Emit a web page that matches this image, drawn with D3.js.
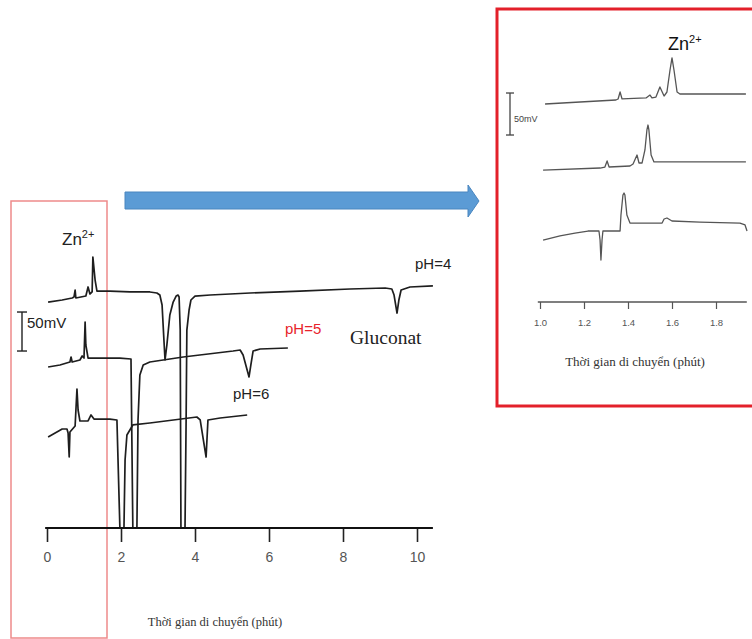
<!DOCTYPE html>
<html><head><meta charset="utf-8">
<script src="https://cdn.jsdelivr.net/npm/d3@7"></script>
<style>html,body{margin:0;padding:0;background:#fff;}svg{display:block;}</style>
</head><body>
<script>
// ---- Main electropherogram (time in min, signal in mV, traces offset) ----
const mainTicks = [0, 2, 4, 6, 8, 10];
const pH4 = [[0.03,289.7],[0.41,292.3],[0.68,294.9],[0.73,296.2],[0.76,305.1],[0.78,294.9],[1.05,297.4],[1.11,309.0],[1.16,300.0],[1.22,302.6],[1.24,347.4],[1.30,317.9],[1.35,303.8],[1.70,303.8],[2.24,302.6],[2.78,302.6],[2.97,301.3],[3.05,298.7],[3.11,285.9],[3.16,241.0],[3.19,215.4],[3.24,234.6],[3.32,273.1],[3.41,289.7],[3.49,297.4],[3.54,298.7],[3.57,296.2],[3.60,253.8],[3.62,0],[3.73,0],[3.76,138.5],[3.78,253.8],[3.84,279.5],[3.89,292.3],[4.00,297.4],[4.41,298.7],[5.49,301.3],[6.84,303.8],[8.19,306.4],[9.14,307.7],[9.32,306.4],[9.38,298.7],[9.46,275.6],[9.51,292.3],[9.57,305.1],[9.81,309.0],[10.43,310.3]];
const pH5 = [[0.03,206.4],[0.35,209.0],[0.62,212.8],[0.65,219.2],[0.68,212.8],[0.89,215.4],[0.95,220.5],[1.00,217.9],[1.03,264.1],[1.05,234.6],[1.11,217.9],[1.43,217.9],[1.97,217.9],[2.27,216.7],[2.32,0],[2.43,0],[2.46,138.5],[2.51,196.2],[2.60,209.0],[2.78,212.8],[3.68,219.2],[5.03,226.9],[5.22,228.2],[5.30,221.8],[5.46,193.6],[5.51,209.0],[5.57,226.9],[5.76,229.5],[6.51,230.8]];
const pH6 = [[0.03,116.7],[0.22,121.8],[0.41,126.9],[0.54,126.9],[0.57,121.8],[0.60,91.0],[0.62,123.1],[0.76,130.8],[0.81,178.2],[0.84,151.3],[0.89,137.2],[1.11,137.2],[1.19,144.9],[1.27,139.7],[1.70,139.7],[1.89,138.5],[1.97,0],[2.08,0],[2.11,87.2],[2.16,119.2],[2.32,132.1],[2.78,134.6],[4.05,142.3],[4.14,138.5],[4.30,91.0],[4.35,138.5],[4.68,141.0],[5.41,144.9]];
const mainLabels = ["pH=4", "pH=5", "pH=6"];

// ---- Inset (zoom on 1.0 - 1.9 min) ----
const insetTicks = [1.0, 1.2, 1.4, 1.6, 1.8];
const inA = [[1.023,235.7],[1.182,238.1],[1.345,240.5],[1.355,241.7],[1.364,250.0],[1.373,241.7],[1.482,242.9],[1.500,246.4],[1.509,242.9],[1.527,244.0],[1.545,256.0],[1.564,245.2],[1.577,250.0],[1.591,276.2],[1.600,290.5],[1.609,276.2],[1.623,250.0],[1.636,247.6],[1.936,247.6]];
const inB = [[1.014,157.1],[1.273,159.5],[1.295,160.7],[1.305,167.9],[1.314,160.7],[1.409,161.9],[1.423,164.3],[1.441,175.0],[1.450,165.5],[1.464,165.5],[1.477,181.0],[1.486,204.8],[1.491,210.7],[1.495,204.8],[1.505,175.0],[1.518,166.7],[1.936,166.7]];
const inC = [[1.014,73.8],[1.091,78.6],[1.159,82.1],[1.218,84.5],[1.268,84.5],[1.273,73.8],[1.277,50.0],[1.282,73.8],[1.286,84.5],[1.364,84.5],[1.368,103.6],[1.377,127.4],[1.382,129.8],[1.386,127.4],[1.395,103.6],[1.409,94.0],[1.555,94.0],[1.564,98.8],[1.577,100.0],[1.600,96.4],[1.727,95.2],[1.909,94.0],[1.932,91.7],[1.941,84.5]];

const axisTitle = "Thời gian di chuyển (phút)";

const W = 752, H = 639;
const svg = d3.select("body").append("svg").attr("width", W).attr("height", H);

// Main scales
const x = d3.scaleLinear().domain([0, 10]).range([47, 417]);
const y = d3.scaleLinear().domain([0, 420]).range([528, 200.4]);
const line = d3.line().x(d => x(d[0])).y(d => y(d[1]));

// left highlight box (around 0-1.6 min)
svg.append("rect").attr("x", 11).attr("y", 201).attr("width", 96).attr("height", 437)
  .attr("fill", "none").attr("stroke", "#ee8a8a").attr("stroke-width", 1.5);

// traces
[pH6, pH5, pH4].forEach(s => {
  svg.append("path").datum(s).attr("d", line).attr("fill", "none")
    .attr("stroke", "#1e1e1e").attr("stroke-width", 1.7).attr("stroke-linejoin", "round");
});

// main axis
const gx = svg.append("g").attr("transform", "translate(0,528)").attr("color", "#555")
  .call(d3.axisBottom(x).tickValues(mainTicks).tickSize(14).tickSizeOuter(0).tickPadding(10));
gx.select(".domain").remove();
gx.selectAll(".tick line").attr("stroke", "#222").attr("stroke-width", 1.6);
gx.selectAll(".tick text").attr("font-family", "Liberation Sans Narrow, Liberation Sans, Arial, sans-serif")
  .attr("font-size", 14).attr("fill", "#555");
svg.append("line").attr("x1", x(-0.05)).attr("x2", x(10.43)).attr("y1", 528).attr("y2", 528)
  .attr("stroke", "#111").attr("stroke-width", 2.2);
svg.append("text").attr("x", 215).attr("y", 626).attr("text-anchor", "middle")
  .attr("font-family", "Liberation Serif, Times New Roman, serif").attr("font-size", 12.5)
  .attr("fill", "#333").text(axisTitle);

// 50 mV scale bar (main)
const sb0 = 226.9;
const sbG = svg.append("g").attr("stroke", "#222").attr("stroke-width", 1.4);
sbG.append("line").attr("x1", 22).attr("x2", 22).attr("y1", y(sb0)).attr("y2", y(sb0 + 50));
sbG.append("line").attr("x1", 17).attr("x2", 27).attr("y1", y(sb0)).attr("y2", y(sb0));
sbG.append("line").attr("x1", 17).attr("x2", 27).attr("y1", y(sb0 + 50)).attr("y2", y(sb0 + 50));
svg.append("text").attr("x", 27).attr("y", 328).attr("font-family", "Liberation Sans, Arial, sans-serif")
  .attr("font-size", 15).attr("fill", "#222").text("50mV");

// Zn2+ label main
const zn1 = svg.append("text").attr("x", 62).attr("y", 245)
  .attr("font-family", "Liberation Sans, Arial, sans-serif").attr("font-size", 17).attr("fill", "#222");
zn1.append("tspan").text("Zn");
zn1.append("tspan").attr("dy", -7).attr("font-size", 11).text("2+");

// pH labels
const lab = svg.append("g").attr("font-family", "Liberation Sans, Arial, sans-serif").attr("font-size", 15);
lab.append("text").attr("x", 415).attr("y", 269).attr("fill", "#222").text(mainLabels[0]);
lab.append("text").attr("x", 285).attr("y", 334).attr("fill", "#e8232b").text(mainLabels[1]);
lab.append("text").attr("x", 233).attr("y", 399).attr("fill", "#222").text(mainLabels[2]);
svg.append("text").attr("x", 350).attr("y", 344).attr("font-family", "Liberation Serif, Times New Roman, serif")
  .attr("font-size", 19.5).attr("fill", "#222").text("Gluconat");

// arrow
const arrowPts = [[125,192],[468,192],[468,185],[479,201],[468,217],[468,209],[125,209]];
svg.append("polygon").attr("points", arrowPts.map(p => p.join(",")).join(" "))
  .attr("fill", "#5b9bd5").attr("stroke", "#4a86bf").attr("stroke-width", 1);

// ---- Inset ----
svg.append("rect").attr("x", 497).attr("y", 9).attr("width", 270).attr("height", 397)
  .attr("fill", "#fff").attr("stroke", "#e3202a").attr("stroke-width", 3);

const xi = d3.scaleLinear().domain([1.0, 1.8]).range([540, 716]);
const yi = d3.scaleLinear().domain([0, 300]).range([302, 50]);
const lineI = d3.line().x(d => xi(d[0])).y(d => yi(d[1]));
[inA, inB, inC].forEach(s => {
  svg.append("path").datum(s).attr("d", lineI).attr("fill", "none")
    .attr("stroke", "#555").attr("stroke-width", 1.3).attr("stroke-linejoin", "round");
});
const gi = svg.append("g").attr("transform", "translate(0,302)").attr("color", "#555")
  .call(d3.axisBottom(xi).tickValues(insetTicks).tickFormat(d3.format(".1f")).tickSize(7).tickSizeOuter(0).tickPadding(10));
gi.select(".domain").remove();
gi.selectAll(".tick line").attr("stroke", "#555").attr("stroke-width", 1.2);
gi.selectAll(".tick text").attr("font-family", "Liberation Sans Narrow, Liberation Sans, Arial, sans-serif")
  .attr("font-size", 9.5).attr("fill", "#555");
svg.append("line").attr("x1", xi(0.99)).attr("x2", xi(1.94)).attr("y1", 302).attr("y2", 302)
  .attr("stroke", "#555").attr("stroke-width", 1.3);
svg.append("text").attr("x", 635).attr("y", 366).attr("text-anchor", "middle")
  .attr("font-family", "Liberation Serif, Times New Roman, serif").attr("font-size", 13)
  .attr("fill", "#333").text(axisTitle);

// inset scale bar
const sbi0 = 198.8;
const sbI = svg.append("g").attr("stroke", "#444").attr("stroke-width", 1.3);
sbI.append("line").attr("x1", 510).attr("x2", 510).attr("y1", yi(sbi0)).attr("y2", yi(sbi0 + 50));
sbI.append("line").attr("x1", 506).attr("x2", 514).attr("y1", yi(sbi0)).attr("y2", yi(sbi0));
sbI.append("line").attr("x1", 506).attr("x2", 514).attr("y1", yi(sbi0 + 50)).attr("y2", yi(sbi0 + 50));
svg.append("text").attr("x", 514).attr("y", 122).attr("font-family", "Liberation Sans Narrow, Liberation Sans, Arial, sans-serif")
  .attr("font-size", 9).attr("fill", "#444").text("50mV");

const zn2 = svg.append("text").attr("x", 668).attr("y", 50)
  .attr("font-family", "Liberation Sans, Arial, sans-serif").attr("font-size", 18).attr("fill", "#111");
zn2.append("tspan").text("Zn");
zn2.append("tspan").attr("dy", -7).attr("font-size", 11).text("2+");
</script>
</body></html>
